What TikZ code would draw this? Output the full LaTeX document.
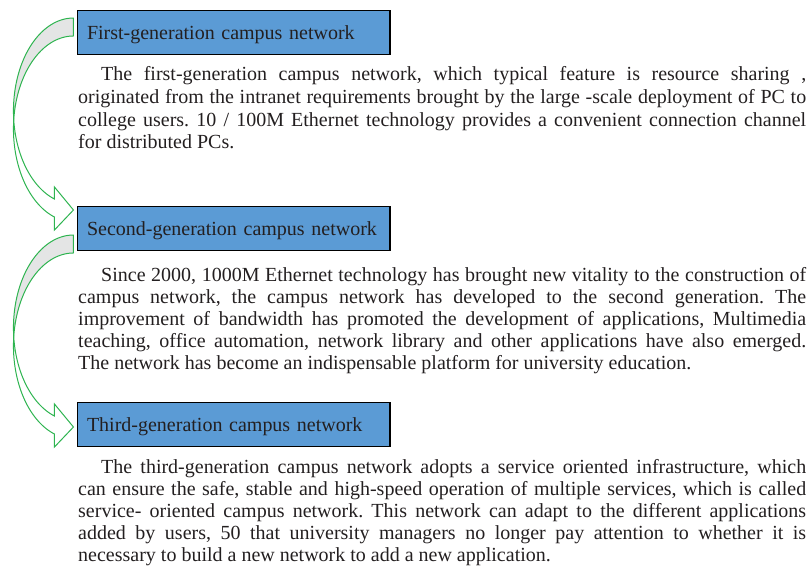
\documentclass[tikz,border=0pt]{standalone}
\usepackage{fontspec}
\setmainfont{Liberation Serif}
\usetikzlibrary{calc}

\definecolor{boxblue}{HTML}{5B9BD5}
\definecolor{arrowgreen}{RGB}{46,180,80}
\definecolor{backgray}{HTML}{E4E5E5}
\definecolor{inkgray}{HTML}{231F20}

% one justified line of a paragraph, spread to the given width
\newcommand\fullline[2]{\hbox to #1{\frenchspacing\spaceskip=5pt plus 30pt minus 2.5pt #2}}

% curved block arrow: tail at the given point, head 192pt lower
\newcommand\genarrow[1]{%
  \begin{scope}[shift={(#1)}]
    \filldraw[arrowback]
      plot[domain=90:185.56,samples=40,variable=\t]({60*cos(\t)},{92.9-92.9*sin(\t)})
      -- plot[domain=174.44:90,samples=40,variable=\t]({60*cos(\t)},{110.9-92.9*sin(\t)})
      -- cycle;
    \filldraw[arrowfront]
      plot[domain=185.56:251.54,samples=40,variable=\t]({60*cos(\t)},{92.9-92.9*sin(\t)})
      -- (-19,169) -- (0,192) -- (-19,212)
      -- plot[domain=251.54:174.44,samples=40,variable=\t]({60*cos(\t)},{110.9-92.9*sin(\t)})
      -- cycle;
  \end{scope}}

\begin{document}
\begin{tikzpicture}[x=1pt,y=-1pt,
  genbox/.style={draw=black, line width=1.1pt, fill=boxblue, minimum width=312.5pt,
    minimum height=44pt, inner xsep=9.5pt, inner ysep=0pt, text width=293.5pt, align=left,
    text height=16.4pt, text depth=3pt, font=\fontsize{20}{22}\selectfont, text=inkgray},
  txt/.style={inner sep=0pt, anchor=base west, font=\fontsize{20}{22}\selectfont, text=inkgray},
  arrowback/.style={draw=arrowgreen, line width=1pt, fill=backgray, line join=round},
  arrowfront/.style={draw=arrowgreen, line width=1pt, fill=white, line join=miter}]
\useasboundingbox (0,0) rectangle (812,574);

% generation boxes
\node[genbox] (b1) at (233.75,32.3) {First-generation campus network};
\node[genbox] (b2) at (233.75,228.3) {Second-generation campus network};
\node[genbox] (b3) at (233.75,424.9) {Third-generation campus network};

% curved arrows from one generation to the next
\coordinate (o1) at ($(b1.west)+(-3.5,-14.3)$);
\coordinate (o2) at ($(b2.west)+(-3.5,6.7)$);
\genarrow{o1}
\genarrow{o2}

% first generation
\node[txt] (p1a) at (101,80.7) {\fullline{705pt}{The first-generation campus network, which typical feature is resource sharing ,}};
\node[txt] (p1b) at (78,103.4) {\fullline{728pt}{originated from the intranet requirements brought by the large -scale deployment of PC to}};
\node[txt] (p1c) at (78,126.1) {\fullline{728pt}{college users. 10 / 100M Ethernet technology provides a convenient connection channel}};
\node[txt] (p1d) at (78,148.8) {for distributed PCs.};

% second generation
\node[txt] (p2a) at (101,281.5) {\fullline{705pt}{Since 2000, 1000M Ethernet technology has brought new vitality to the construction of}};
\node[txt] (p2b) at (78,303.5) {\fullline{728pt}{campus network, the campus network has developed to the second generation. The}};
\node[txt] (p2c) at (78,325.5) {\fullline{728pt}{improvement of bandwidth has promoted the development of applications, Multimedia}};
\node[txt] (p2d) at (78,347.5) {\fullline{728pt}{teaching, office automation, network library and other applications have also emerged.}};
\node[txt] (p2e) at (78,369.5) {The network has become an indispensable platform for university education.};

% third generation
\node[txt] (p3a) at (101,473) {\fullline{705pt}{The third-generation campus network adopts a service oriented infrastructure, which}};
\node[txt] (p3b) at (78,495.2) {\fullline{728pt}{can ensure the safe, stable and high-speed operation of multiple services, which is called}};
\node[txt] (p3c) at (78,517.4) {\fullline{728pt}{service- oriented campus network. This network can adapt to the different applications}};
\node[txt] (p3d) at (78,539.6) {\fullline{728pt}{added by users, 50 that university managers no longer pay attention to whether it is}};
\node[txt] (p3e) at (78,561.8) {necessary to build a new network to add a new application.};
\end{tikzpicture}
\end{document}
